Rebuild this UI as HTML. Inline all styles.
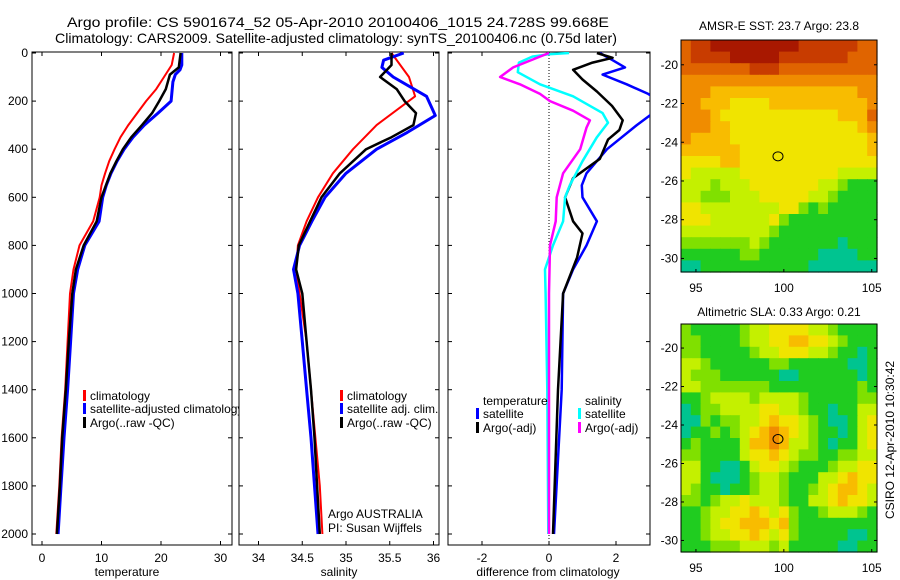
<!DOCTYPE html>
<html><head><meta charset="utf-8">
<style>
html,body{margin:0;padding:0;background:#fff;}
svg{display:block;font-family:"Liberation Sans",sans-serif;}
</style></head>
<body>
<svg id="fig" width="900" height="580" viewBox="0 0 900 580">
<text x="338" y="27" font-size="14" text-anchor="middle" textLength="542" lengthAdjust="spacingAndGlyphs">Argo profile: CS 5901674_52 05-Apr-2010 20100406_1015 24.728S 99.668E</text>
<text x="336" y="43" font-size="14" text-anchor="middle" textLength="562" lengthAdjust="spacingAndGlyphs">Climatology: CARS2009. Satellite-adjusted climatology: synTS_20100406.nc (0.75d later)</text>
<defs>
<clipPath id="c1"><rect x="32" y="52" width="200" height="493"/></clipPath>
<clipPath id="c2"><rect x="239" y="52" width="200" height="493"/></clipPath>
<clipPath id="c3"><rect x="448" y="52" width="202" height="493"/></clipPath>
</defs>
<g id="layer"></g>
<text transform="translate(894,440) rotate(-90)" font-size="12" text-anchor="middle">CSIRO 12-Apr-2010 10:30:42</text>
</svg>
<script>
// ---------- data ----------
const tempRedD=[0,50,100,150,200,250,300,350,400,450,500,550,600,700,800,900,1000,1200,1400,1600,1800,2000];
const tempRedV=[22.2,21.8,20.5,19.2,17.5,16,14.5,13.2,12.2,11.3,10.6,10,9.7,8.6,6.3,5.3,4.7,4.3,3.9,3.3,2.9,2.4];
const tempBlueD=[0,50,70,90,120,200,250,300,350,400,450,500,550,600,700,800,900,1000,1200,1400,1600,1800,2000];
const tempBlueV=[23.5,23.5,23.2,22.4,22,21.7,19.5,17.2,15.3,13.8,12.6,11.6,10.8,10.2,9.6,7.2,6,5.3,4.8,4.3,3.7,3.2,2.7];
const tempBlackD=[0,60,90,150,200,250,300,350,400,450,500,600,700,800,900,1000,1200,1400,1600,1800,2000];
const tempBlackV=[23.3,23,21.5,20.8,19.7,18.5,16.8,15,13.6,12.5,11.5,10,9.2,7,5.7,5.1,4.5,4.0,3.4,3.0,2.5];
const salRedD=[0,100,180,300,400,500,600,700,800,900,1000,1200,1400,1600,1800,2000];
const salRedV=[35.52,35.72,35.79,35.35,35.08,34.85,34.68,34.55,34.45,34.43,34.47,34.55,34.6,34.65,34.7,34.73];
const salBlueD=[0,30,60,100,180,260,330,400,500,600,700,800,900,1000,1200,1400,1600,1800,2000];
const salBlueV=[35.66,35.43,35.41,35.54,35.92,36.02,35.7,35.35,35.0,34.76,34.61,34.47,34.4,34.45,34.5,34.55,34.6,34.64,34.68];
const salBlackD=[0,50,100,150,200,250,300,350,400,500,600,700,800,900,1000,1200,1400,1600,1800,2000];
const salBlackV=[35.52,35.52,35.39,35.58,35.67,35.8,35.77,35.52,35.23,34.93,34.72,34.59,34.46,34.43,34.5,34.55,34.6,34.64,34.67,34.7];
const dBlueD=[0,30,60,90,130,170,200,250,300,400,500,550,600,700,800,900,1000,1400,2000];
const dBlueV=[1.52,1.9,2.27,1.6,2.32,2.96,3.3,3.1,2.62,1.73,1.12,0.98,1.0,1.43,1.12,0.72,0.42,0.38,0.15];
const dBlackD=[0,20,40,70,110,160,220,280,320,360,440,520,600,700,750,850,1000,1400,2000];
const dBlackV=[1.43,1.9,1.3,0.72,1.0,1.43,1.88,2.2,2.1,1.76,1.52,0.72,0.48,0.72,1.0,0.84,0.42,0.27,0.12];
const dCyanD=[0,5,15,40,80,130,180,250,290,350,450,550,600,700,800,900,1000,1400,2000];
const dCyanV=[0.6,0,-0.5,-0.9,-0.93,-0.27,0.72,1.6,1.76,1.43,1.0,0.62,0.48,0.42,0.12,-0.12,-0.1,-0.05,-0.02];
const dMagD=[0,60,100,130,170,200,240,280,310,400,500,600,700,800,1000,1400,2000];
const dMagV=[0,-1.07,-1.46,-0.87,-0.27,0.03,0.72,1.22,1.12,0.93,0.42,0.23,0.2,0.03,0.0,0.0,0.0];
const depthTicks=[0,200,400,600,800,1000,1200,1400,1600,1800,2000];
const tempTicks=[0,10,20,30];
const salTicks=[34,34.5,35,35.5,36];
const diffTicks=[-2,0,2];
const latTicks=[20,22,24,26,28,30];
const lonTicks=[95,100,105];
const sstGrid=[
"21100000000011111122","21111000001111111222","22222221112222222222","33333333333333333333",
"33344444444444444433","33444555544444444443","33345555555555554442","33344555555555555543",
"34444555555555555554","44444455555555555554","55554455555555555555","56666655555555556666",
"66676665555555667888","66777666555556678888","55666666665578788888","55566666657888888888",
"66666666678888888888","77777776788888889888","88888877888888999988","99888888888889999999"];
const slaGrid=[
"78888876655556678888","77888876655445567888","77888887665556678898","66788888877888888998",
"67778888889988888898","66777777788888888878","88766667666678888877","98776666556678898866",
"99787766545567899865","98878765434567889865","87888864434667898865","77888865545677887766",
"66889986556788876655","66899987667888665455","67889887667887654456","77876656667886654556",
"88766554565788766678","88765544454788888888","88766554565788888998","88877766676888889988"];
const argoLon=99.668, argoLat=24.728;

// ---------- helpers ----------
const NS="http://www.w3.org/2000/svg";
const layer=document.getElementById('layer');
function mk(tag,attrs,parent){const e=document.createElementNS(NS,tag);for(const k in attrs)e.setAttribute(k,attrs[k]);(parent||layer).appendChild(e);return e;}
const Y0=52, Y1=545;
function yD(d){return 53+d*0.2405;}
function xT(t){return 42+t*5.95;}
function xS(s){return 258.5+(s-34)*87.5;}
function xF(v){return 549+v*33.5;}
const palette=["#a81800","#c83c00","#e06400","#f08c00","#f8bc00","#f0e400","#c4f000","#80e000","#20cc20","#00c490"];

function panel(x0,x1,name){
  const r=mk('rect',{x:x0,y:Y0,width:x1-x0,height:Y1-Y0,fill:'#fff',stroke:'#000','stroke-width':1});
  
  
  depthTicks.forEach(d=>{
    const y=yD(d);
    const t1=mk('line',{x1:x0,x2:x0+4,y1:y,y2:y,stroke:'#000'});
    
    
    const t2=mk('line',{x1:x1-4,x2:x1,y1:y,y2:y,stroke:'#000'});
    
    
  });
}
function xTicks(vals,fx,name){
  vals.forEach(v=>{
    const x=fx(v);
    const a=mk('line',{x1:x,x2:x,y1:Y1,y2:Y1-4,stroke:'#000'});
    
    
    const b=mk('line',{x1:x,x2:x,y1:Y0,y2:Y0+4,stroke:'#000'});
    
    
    const t=mk('text',{x:x,y:562,'font-size':12,'text-anchor':'middle'});
    t.textContent=String(v);
    
    
  });
}
function line(D,V,fx,color,w,clip,name){
  const pts=D.map((d,i)=>fx(V[i]).toFixed(1)+','+yD(d).toFixed(1)).join(' ');
  const p=mk('polyline',{points:pts,fill:'none',stroke:color,'stroke-width':w,'stroke-linejoin':'round','clip-path':'url(#'+clip+')'});
  
  
}
function legend(x,y,color,label,name){
  const m=mk('rect',{x:x,y:y-10,width:3,height:11,fill:color});
  
  
  const t=mk('text',{x:x+7,y:y,'font-size':12});
  t.textContent=label;
  
  
}
function txt(x,y,s,name,anchor){
  const t=mk('text',{x:x,y:y,'font-size':12,'text-anchor':anchor||'start'});
  t.textContent=s;
  
  
}

// ---------- panel 1 : temperature ----------
panel(32,232,'temperature-panel');
depthTicks.forEach(d=>{
  const t=mk('text',{x:28,y:yD(d)+4,'font-size':12,'text-anchor':'end'});
  t.textContent=String(d);
  
  
});
xTicks(tempTicks,xT,'temperature');
line(tempRedD,tempRedV,xT,'#ff0000',2,'c1','temp-climatology-line');
line(tempBlueD,tempBlueV,xT,'#0000ff',3,'c1','temp-satellite-line');
line(tempBlackD,tempBlackV,xT,'#000000',2.5,'c1','temp-argo-line');
legend(83,400,'#ff0000','climatology','legend-climatology');
legend(83,413,'#0000ff','satellite-adjusted climatology','legend-satellite-adjusted');
legend(83,427,'#000','Argo(..raw -QC)','legend-argo-raw');
txt(127,576,'temperature','x-axis-title-temperature','middle');

// ---------- panel 2 : salinity ----------
panel(239,439,'salinity-panel');
xTicks(salTicks,xS,'salinity');
line(salRedD,salRedV,xS,'#ff0000',2,'c2','sal-climatology-line');
line(salBlueD,salBlueV,xS,'#0000ff',3,'c2','sal-satellite-line');
line(salBlackD,salBlackV,xS,'#000000',2.5,'c2','sal-argo-line');
legend(340,400,'#ff0000','climatology','legend-sal-climatology');
legend(340,413,'#0000ff','satellite adj. clim.','legend-sal-satellite');
legend(340,427,'#000','Argo(..raw -QC)','legend-sal-argo');
txt(328,518,'Argo AUSTRALIA','argo-australia-label');
txt(328,532,'PI: Susan Wijffels','pi-label');
txt(339,576,'salinity','x-axis-title-salinity','middle');

// ---------- panel 3 : difference ----------
panel(448,650,'difference-panel');
xTicks(diffTicks,xF,'difference');
const z=mk('line',{x1:xF(0),x2:xF(0),y1:Y0,y2:Y1,stroke:'#000','stroke-width':1,'stroke-dasharray':'1,2'});


line(dBlueD,dBlueV,xF,'#0000ff',2.5,'c3','diff-temp-satellite-line');
line(dBlackD,dBlackV,xF,'#000000',2.5,'c3','diff-temp-argo-line');
line(dCyanD,dCyanV,xF,'#00ffff',2.5,'c3','diff-sal-satellite-line');
line(dMagD,dMagV,xF,'#ff00ff',2.5,'c3','diff-sal-argo-line');
txt(483,405,'temperature','legend-temperature-heading');
txt(585,405,'salinity','legend-salinity-heading');
legend(476,418,'#0000ff','satellite','legend-temp-satellite');
legend(476,432,'#000','Argo(-adj)','legend-temp-argo');
legend(578,418,'#00ffff','satellite','legend-sal-satellite-diff');
legend(578,432,'#ff00ff','Argo(-adj)','legend-sal-argo-diff');
txt(548,576,'difference from climatology','x-axis-title-difference','middle');

// ---------- maps ----------
const MX0=681, MX1=877, LON0=94.15, LON1=105.3;
function xL(lon){return MX0+(lon-LON0)*(MX1-MX0)/(LON1-LON0);}
function drawMap(grid,top,bot,lat0,lat1,title,name,titleY){
  const yL=lat=>top+(lat-lat0)*(bot-top)/(lat1-lat0);
  const rows=grid.length, cols=grid[0].length;
  const cw=(MX1-MX0)/cols, ch=(bot-top)/rows;
  grid.forEach((row,r)=>{
    for(let c=0;c<cols;c++){
      const cell=mk('rect',{x:(MX0+c*cw).toFixed(2),y:(top+r*ch).toFixed(2),width:(cw+0.6).toFixed(2),height:(ch+0.6).toFixed(2),fill:palette[+row[c]]});
      
      
    }
  });
  const f=mk('rect',{x:MX0,y:top,width:MX1-MX0,height:bot-top,fill:'none',stroke:'#000'});
  
  
  latTicks.forEach(l=>{
    const y=yL(l);
    const a=mk('line',{x1:MX1-3,x2:MX1,y1:y,y2:y,stroke:'#000'});
    
    
    const b=mk('line',{x1:MX0,x2:MX0+3,y1:y,y2:y,stroke:'#000'});
    
    
    const t=mk('text',{x:678,y:y+4,'font-size':12,'text-anchor':'end'});
    t.textContent='-'+l;
    
    
  });
  lonTicks.forEach(l=>{
    const x=xL(l);
    const a=mk('line',{x1:x,x2:x,y1:bot,y2:bot-3,stroke:'#000'});
    
    
    const t=mk('text',{x:x,y:bot+20,'font-size':12,'text-anchor':'middle'});
    t.textContent=String(l);
    
    
  });
  const c=mk('ellipse',{cx:xL(argoLon),cy:yL(argoLat),rx:5,ry:4.5,fill:'none',stroke:'#000','stroke-width':1});
  
  
  const tt=mk('text',{x:(MX0+MX1)/2,y:titleY,'font-size':12,'text-anchor':'middle'});
  tt.textContent=title;
  
  
}
drawMap(sstGrid,40,272,18.72,30.7,'AMSR-E SST: 23.7 Argo: 23.8','sst-map',30);
drawMap(slaGrid,324,552,18.75,30.6,'Altimetric SLA: 0.33 Argo: 0.21','sla-map',316);
</script>
</body></html>
